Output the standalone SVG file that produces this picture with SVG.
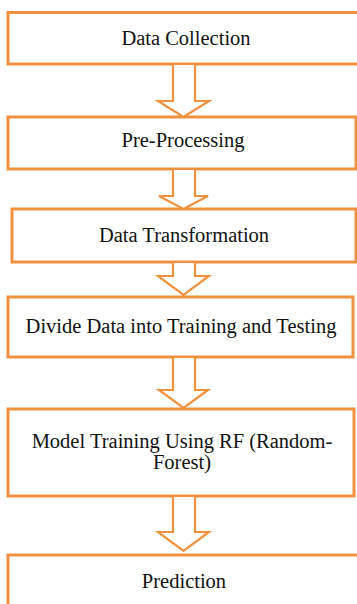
<svg xmlns="http://www.w3.org/2000/svg" width="357" height="604" viewBox="0 0 357 604">
<style>
.box{fill:#fff;stroke:#F0913F;stroke-width:3}
.arr{fill:#fff;stroke:#F0913F;stroke-width:2.2;stroke-linejoin:miter}
.t{font-family:"Liberation Serif","Times New Roman",serif;font-size:20.5px;fill:#111;text-anchor:middle}
</style>
<rect width="357" height="604" fill="#fff"/>
<g id="n1"><rect class="box" x="8" y="12.5" width="352" height="51.5"/><text class="t" x="186" y="45">Data Collection</text></g>
<g id="n2"><rect class="box" x="8" y="117" width="348" height="52"/><text class="t" x="183" y="147">Pre-Processing</text></g>
<g id="n3"><rect class="box" x="12" y="209" width="344" height="53"/><text class="t" x="184" y="242">Data Transformation</text></g>
<g id="n4"><rect class="box" x="8" y="297" width="345" height="60"/><text class="t" x="181" y="333">Divide Data into Training and Testing</text></g>
<g id="n5"><rect class="box" x="8" y="409" width="346" height="87"/><text class="t" x="182" y="448">Model Training Using RF (Random-</text><text class="t" x="182" y="469">Forest)</text></g>
<g id="n6"><rect class="box" x="8" y="555" width="352" height="60"/><text class="t" x="184" y="588">Prediction</text></g>
<g id="connectors">
<polygon class="arr" points="173,64 195,64 195,101 209,101 183.5,117 158,101 173,101"/>
<polygon class="arr" points="173,169 195,169 195,196 208,196 183.5,209 159,196 173,196"/>
<polygon class="arr" points="173,262 195,262 195,276 209,276 183.5,295 158,276 173,276"/>
<polygon class="arr" points="173,357 195,357 195,390 208,390 183.5,408 159,390 173,390"/>
<polygon class="arr" points="173,496 195,496 195,532 209,532 183.5,551 158,532 173,532"/>
</g>
</svg>
